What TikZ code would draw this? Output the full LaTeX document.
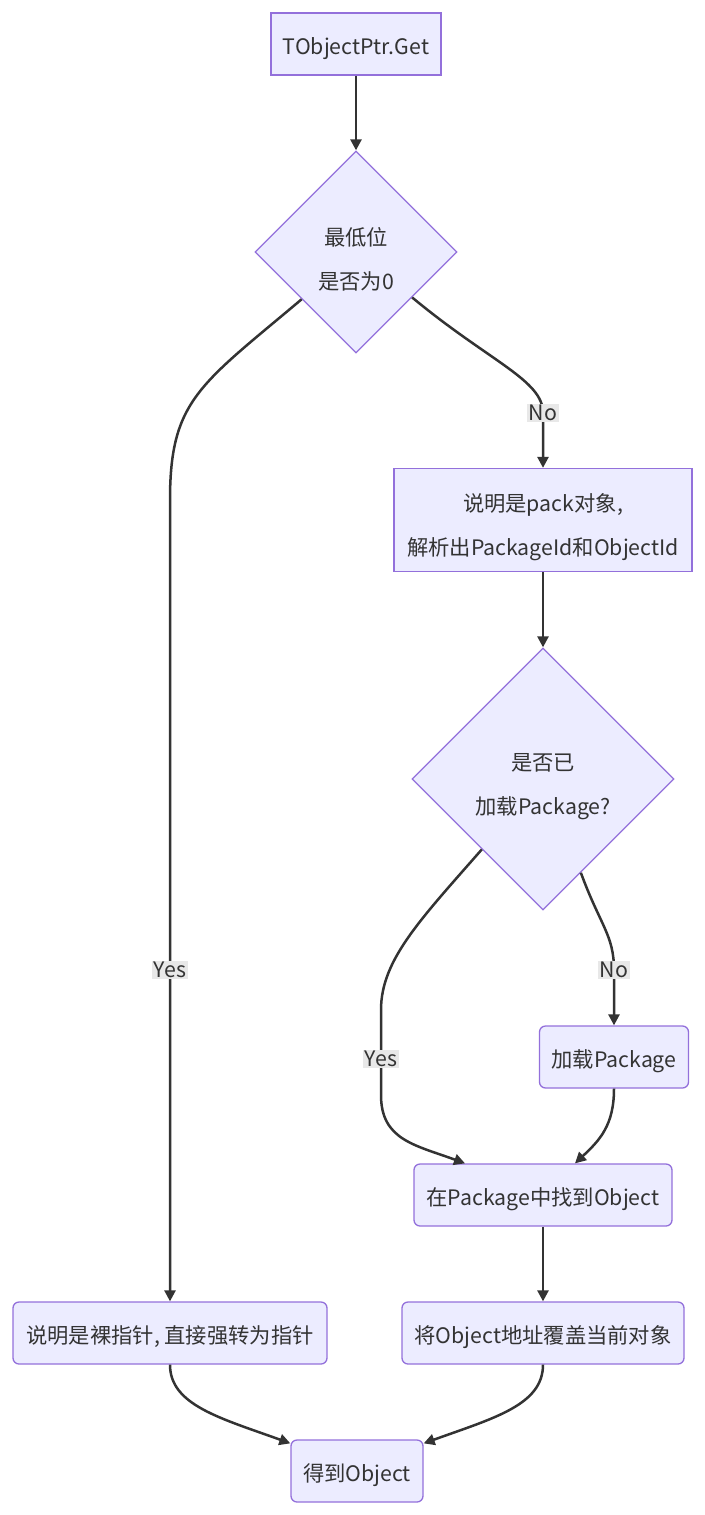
\documentclass[tikz,border=0pt]{standalone}
\usepackage{fontspec}
\newfontfamily\cjk{Noto Sans CJK SC}
\usetikzlibrary{shapes.geometric, calc, arrows.meta, positioning}
\definecolor{nodefill}{HTML}{ECECFF}
\definecolor{nodeline}{HTML}{9370DB}
\definecolor{edgeline}{HTML}{333333}
\definecolor{lblfill}{HTML}{E8E8E8}
\newcommand\lowtext{\rule{0pt}{33pt}}
\newcommand\lowone{\rule{0pt}{26pt}}
\tikzset{
    box/.style={draw=nodeline, fill=nodefill, line width=1.3pt, text=edgeline,
        font=\cjk\fontsize{21.3}{44}\selectfont, minimum height=62pt, inner sep=0pt, align=center},
    rbox/.style={box, rounded corners=6pt},
    dec/.style={box, diamond, aspect=1},
    flow/.style={draw=edgeline, line width=2.5pt, -{Triangle[length=11pt,width=11pt]}},
    lbl/.style={fill=lblfill, text=edgeline, font=\cjk\fontsize{21.3}{24}\selectfont, inner sep=1.5pt}
}
\begin{document}
\begin{tikzpicture}[x=1pt, y=-1pt]
    \useasboundingbox (0,0) rectangle (704,1515);
    \node[box, minimum width=170pt] (get) at (356,44) {\lowone TObjectPtr.Get};
    \node[dec, minimum width=202pt, minimum height=202pt] (low) at (356,252) {\lowtext 最低位\\是否为0};
    \node[box, minimum width=298pt, minimum height=103pt] (pack) at (543,520) {\lowtext 说明是pack对象,\\解析出PackageId和ObjectId};
    \node[dec, minimum width=262pt, minimum height=262pt] (loaded) at (543,779) {\lowtext 是否已\\加载Package?};
    \foreach \n/\x/\y/\w/\t in {load/614/1057/149/{加载Package},
                                find/543/1195/258/{在Package中找到Object},
                                over/543/1333/282/{将Object地址覆盖当前对象},
                                raw/170/1333/314/{说明是裸指针, 直接强转为指针},
                                done/357/1471/132/{得到Object}} {
        \node[rbox, minimum width=\w pt] (\n) at (\x,\y) {\lowone\t};
    }
    % connectors
    \draw[flow] (get) -- (low);
    \draw[flow] (low.-139) .. controls (200,385) and (170,400) .. (170,500)
        -- (170,970) node[lbl] {Yes} -- (raw);
    \draw[flow] (low.-39) .. controls (490,362) and (543,380) .. (543,413)
        node[lbl] {No} -- (pack);
    \draw[flow] (pack) -- (loaded);
    \draw[flow] (loaded.-131) .. controls (420,920) and (381,960) .. (381,1010)
        -- (381,1059) node[lbl] {Yes} -- (381,1095)
        .. controls (381,1140) and (415,1145) .. ([xshift=-78pt]find.north);
    \draw[flow] (loaded.-68) .. controls (600,925) and (614,935) .. (614,970)
        node[lbl] {No} -- (load);
    \draw[flow] (load.south) .. controls (614,1125) and (600,1140) .. ([xshift=32pt]find.north);
    \draw[flow] (find) -- (over);
    \draw[flow] (raw.south) .. controls (170,1405) and (220,1418) .. ([yshift=-4pt]done.north west);
    \draw[flow] (over.south) .. controls (543,1405) and (494,1418) .. ([yshift=-4pt]done.north east);
\end{tikzpicture}
\end{document}
